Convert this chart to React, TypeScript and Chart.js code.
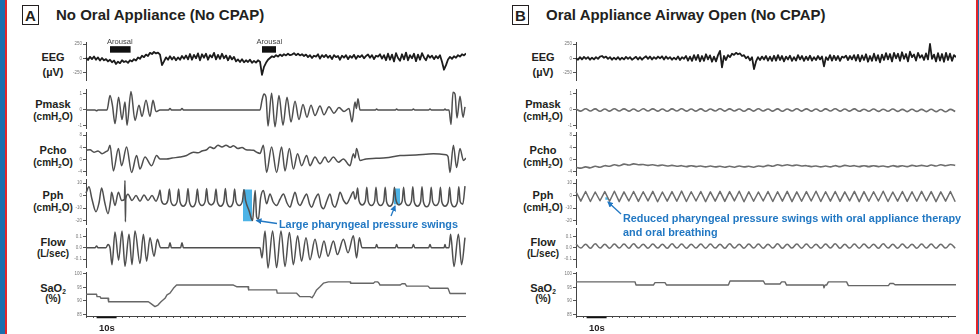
import React, { useEffect, useRef } from "react";
import { Chart, registerables } from "chart.js";
Chart.register(...registerables);

const FONT = '"Liberation Sans", Arial, Helvetica, sans-serif';
const T_MAX = 190;
const EEG_DT = 1;
const B_DT = 2.4;
const X_STEP = 3.65;
const BLUE = "#2278c3";

// ---------- tick values / labels ----------
const eegTicks = [250, 0, -250];
const eegLabels = ["250", "0", "-250"];
const pmaskTicks = [1, 0, -1];
const pmaskLabels = ["1", "0", "-1"];
const pchoTicks = [8, 4, 0, -4];
const pchoLabels = ["8", "4", "0", "-4"];
const pphTicks = [10, 0, -10, -20];
const pphLabels = ["10", "0", "-10", "-20"];
const flowTicks = [0.1, 0, -0.1];
const flowLabels = ["0.1", "0.0", "-0.1"];
const saTicks = [100, 95, 90, 85];
const saLabels = ["100", "95", "90", "85"];

// ---------- Panel A data ----------
const eegA = [
  10, -30, 25, -15, 30, -25, 15, -40, 5, -35,
  -15, -55, -25, -70, -40, -100, -60, -85, -35, -65,
  -50, -80, -35, -55, -15, -40, 15, -10, 45, 20,
  65, 40, 95, 75, 110, 85, 100, 65, -120, -55,
  15, -25, 35, -20, 25, -35, 15, -25, 40, -10,
  50, -20, 75, -25, 60, 0, 85, -35, 70, 10,
  80, -25, 55, 15, 95, -20, 60, -10, 80, 0,
  50, -35, 40, -20, 25, -55, -20, -65, -15, -70,
  -35, -65, -25, -80, -45, -75, -35, -60, -290, -150,
  -80, -25, 5, 35, 20, 55, 30, 65, 40, 70,
  50, 80, 55, 65, 90, 55, 80, 50, 70, 40,
  65, 20, 55, 5, 45, 30, 70, -5, 55, 20,
  60, 10, 45, -15, 55, 20, 40, -25, 45, 10,
  55, -15, 40, 10, 60, -10, 45, 20, 55, 0,
  40, 65, 10, 55, -15, 45, 30, 70, -5, 55,
  -35, 80, -25, 65, -55, 90, 5, -45, 70, -20,
  100, -35, 55, 0, 80, -50, 65, -25, 90, 15,
  -35, 55, 10, 45, -15, 40, 0, 55, -60, -200,
  -120, -20, 25, -10, 35, 10, 55, 30, 70, 50,
  85,
];

const arousal1: [number, number][] = [[12, 155], [22.3, 155]];
const arousal2: [number, number][] = [[88, 155], [95, 155]];

const pmaskA: [number, number][] = [
  [0, 0], [4.5, 0], [5.3, -0.05], [6, 0], [10.5, 0], [12, 0.9], [13.2, 0.3], [14.5, -0.85],
  [16.3, 0.8], [18, -0.6], [19.5, 0.5], [20.5, -0.95], [22.5, 1.15], [24.5, -0.65], [26.5, 0.3],
  [28, -0.4], [30, 0.6], [32, -0.4], [33.5, 0.6], [35, -0.1], [37, 0], [41.3, 0], [42, 0.1],
  [42.7, 0], [47.3, 0], [48, 0.1], [48.7, 0], [87, 0], [88, 0.6], [89, 1.0], [90, 0.8], [91, -1.0],
  [92.8, 1.05], [94.5, -1.05], [96.5, 0.9], [98.5, -0.95], [100.5, 0.8], [102.5, -0.75],
  [104.5, 0.55], [106.5, -0.6], [108.5, 0.35], [110.5, -0.45], [112.5, 0.3], [114.5, -0.35],
  [117, 0.25], [119, -0.3], [121.5, 0.2], [124, -0.2], [126.5, 0.15], [129, -0.1], [131.5, 0.1],
  [133, -0.75], [134.5, 0.5], [135.2, 0.1], [136, 0.7], [137, 0], [144.7, 0], [145.3, 0.06],
  [146, 0], [154.7, 0], [155.3, 0.06], [156, 0], [163, 0], [163.7, 0.06], [164.4, 0], [171.3, 0],
  [172, 0.06], [172.7, 0], [179, 0], [179.5, 0.06], [180, 0], [181.5, 0], [182.5, -0.9],
  [183.5, 1.1], [184.5, 1.0], [185.5, -0.5], [187, 0.85], [188.5, -0.45], [189.5, 0.2],
];

const pchoA: [number, number][] = [
  [0, 3.0], [2, 3.2], [4, 2.4], [6, 2.8], [8, 1.9], [10, 2.6], [11, 3.0], [12, 4.7], [13.7, -3.7],
  [16.2, 3.6], [17.8, -2.0], [20.3, 4.1], [22.8, -4.2], [25.3, 1.3], [27, -3.1], [29.5, 0.8],
  [32.8, -2.0], [35.3, 1.3], [37, 0.2], [40.3, 0.2], [43, 0.5], [47, 0.8], [50.3, 1.3],
  [53.7, 2.4], [56, 2.2], [58, 2.8], [60.3, 3.2], [62, 4.1], [64, 3.6], [66, 4.7], [68, 4.1],
  [70, 4.7], [72, 4.0], [73.7, 4.5], [76, 3.6], [78, 3.9], [80, 3.2], [83.7, 3.0], [85.3, 2.4],
  [87, 2.0], [88.7, 4.7], [90.3, -4.2], [92.8, 4.1], [95.3, -4.2], [97.8, 4.1], [99.5, -3.7],
  [101.7, 3.6], [103.7, -3.1], [105.8, 1.9], [107.8, -2.0], [110.3, 1.3], [112, -2.0],
  [114.5, 0.8], [117, -1.4], [119.5, 0.8], [121.2, -0.9], [123.7, 0.8], [126.2, -0.9],
  [128.7, 0.2], [132, -2.0], [133.7, 1.9], [134.5, 0.5], [135.3, 3.6], [137, -0.3], [140, 0.2],
  [145, 0.4], [150, 0.6], [157, 1.3], [165, 1.5], [173.7, 1.9], [180, 1.6], [181, 1.0],
  [182, -4.2], [183.7, 4.7], [185.3, -2.6], [187, 3.6], [188.7, -0.3], [190, 0.5],
];

const pphA: [number, number][] = [
  [0, 2], [1.5, 7], [3, -3], [5, -13], [6.5, -6], [7.8, 6], [9.3, -5], [11, -14.5], [12.3, -4],
  [12.8, 2.6], [14.5, -8], [16.2, 2.6], [17.8, -4], [19.2, -3], [19.5, 12], [19.7, -21], [19.9, -3],
  [21, 1], [23, -4], [25, 0], [27, -4.5], [29, 0.5], [31, -4], [33, 0], [35, -4.5], [36.5, 1],
  [37, 4.5], [37.7, -4], [39.3, -7], [40.9, -4],
  [41.7, 5.3], [42.4, -4.5], [44, -8], [45.6, -4.5],
  [46.3, 5.3], [47, -5], [48.6, -8.5], [50.2, -5],
  [51, 5.6], [51.7, -5], [53.3, -9], [54.9, -5],
  [55.7, 5.3], [56.4, -4.5], [58, -8], [59.6, -4.5],
  [60.3, 5.6], [61, -4.5], [62.6, -7.5], [64.2, -4.5],
  [65, 5.3], [65.7, -5], [67.3, -8.5], [68.9, -5],
  [69.7, 5.6], [70.4, -5], [72, -9], [73.6, -5],
  [74.3, 5.3], [75, -4.5], [76.6, -8], [78.2, -4.5],
  [79, 4.8], [79.8, -4], [81.5, -12], [83.3, -20], [84, -6], [84.6, 4], [85.3, -17], [86.2, -19],
  [87.3, -2], [88.7, 4], [90.3, -6.6], [92, 1.3], [93.5, -5], [95.3, -8], [97, -3], [98.7, 1.3],
  [100.5, -6], [102, -9.3], [103.3, -3], [104.5, 2.6], [106, -6], [107, -8], [108.7, -3],
  [110.3, 1.3], [111.8, -7], [112.8, -9.3], [114.5, -3], [116.2, 1.3], [117.5, -8], [118.7, -10.6],
  [120.5, -4], [122, 1.3], [123.3, -7], [124.5, -9.3], [126, -3], [127, 2.6], [128.8, -4],
  [130.3, -6.6], [132, -2], [133.7, 3], [134.5, -3], [135.1, -1],
  [135.8, 6], [136.5, -4], [138.1, -7.5], [139.7, -4],
  [140.4, 6.6], [141.1, -4.5], [142.7, -8], [144.3, -4.5],
  [145, 6.6], [145.7, -4.5], [147.3, -8], [148.9, -4.5],
  [149.6, 6.6], [150.3, -5], [151.9, -8.5], [153.5, -5],
  [154.2, 6.6], [154.9, -3], [156.5, -7.5], [158.1, -4.5],
  [158.8, 6.6], [159.5, -4.5], [161.1, -8], [162.7, -4.5],
  [163.4, 7], [164.1, -5], [165.7, -8.5], [167.3, -5],
  [168, 7], [168.7, -5], [170.3, -9], [171.9, -5],
  [172.6, 6.6], [173.3, -4.5], [174.9, -8], [176.5, -4.5],
  [177.2, 6.6], [177.9, -5], [179.5, -8.5], [181.1, -5],
  [181.8, 6.6], [182.5, -5], [184.1, -9], [185.7, -5],
  [186.4, 7], [187.1, -5], [188.4, -7], [189.5, 7.5],
];

const pphHighlightA1: [number, number][] = [[78.5, 4.8], [83.0, 4.8]];
const pphHighlightA1Bottom = -20.6;
const pphHighlightA2: [number, number][] = [[154.0, 5.6], [157.0, 5.6]];
const pphHighlightA2Bottom = -7.1;

const flowA: [number, number][] = [
  [0, 0], [4.5, 0], [5.3, 0.015], [6, 0], [10, 0], [11, 0.03], [12, 0], [13, -0.15], [14.5, 0.14],
  [16.3, -0.11], [18, 0.15], [19.5, -0.165], [21.5, 0.12], [23, -0.15], [24.5, 0.15], [27, -0.14],
  [28.7, 0.12], [30.3, -0.12], [32, 0.09], [34, -0.075], [35.7, 0.075], [37.3, 0], [41.3, 0],
  [42, 0.045], [42.7, 0], [47.3, 0], [48, 0.045], [48.7, 0], [87, 0], [88, -0.09], [89.5, 0.15],
  [91, -0.18], [93.3, 0.15], [95.3, -0.175], [97.5, 0.15], [99.5, -0.167], [101.7, 0.136],
  [103.7, -0.15], [105.8, 0.106], [107.8, -0.12], [110, 0.09], [112, -0.106], [114.5, 0.075],
  [116.7, -0.09], [119, 0.06], [121, -0.075], [123.7, 0.06], [125.7, -0.06], [128.7, 0.075],
  [131, -0.045], [133.7, 0.106], [135.3, -0.09], [136.7, 0.09], [138, 0], [144.7, 0],
  [145.3, 0.03], [146, 0], [154.7, 0], [155.3, 0.03], [156, 0], [163, 0], [163.7, 0.03],
  [164.4, 0], [171.3, 0], [172, 0.03], [172.7, 0], [179, 0], [179.5, 0.03], [180, 0], [181.5, 0],
  [182.3, 0.12], [184, -0.167], [186.2, 0.12], [187.8, -0.15], [189.5, 0.09],
];

const saA: [number, number][] = [
  [0, 92.5], [5.3, 92.5], [5.5, 91.6], [7, 91.6], [7.5, 91.0], [11, 91.0], [11.3, 89.7],
  [31.2, 89.7], [32.5, 89.0], [34.5, 87.9], [36, 88.5], [37.5, 89.7], [39.5, 91.0], [40.5, 92.3],
  [42, 92.9], [43.7, 94.7], [45.3, 95.9], [73.7, 95.9], [75.3, 95.3], [81, 95.3], [81.3, 94.1],
  [95.3, 94.1], [95.6, 92.9], [105.3, 92.9], [107, 91.6], [112, 91.6], [113, 91.2], [114, 92.3],
  [115.3, 94.1], [117, 95.3], [118.7, 96.6], [121.2, 97.1], [132, 97.1], [132.3, 96.6],
  [143.7, 96.6], [144.5, 97.1], [145.8, 97.1], [146.5, 96.6], [147, 95.9], [157, 95.9],
  [158, 96.4], [159.5, 96.4], [160.3, 95.5], [171, 95.5], [172, 94.7], [181, 94.7], [182, 92.8],
  [190, 92.8],
];

// ---------- Panel B data ----------
const eegB = [
  0, -25, 20, -20, 25, -10, 20, -25, 10, -20,
  20, -10, 30, 40, 10, 30, -10, 20, -25, 10,
  -20, 20, -25, 10, -20, 25, -10, 20, -25, 0,
  25, -20, 20, -25, 10, 35, -10, 30, -20, 20,
  -10, 30, 0, 35, -20, 30, -10, 20, -25, 10,
  -20, 30, -30, 20, -10, 40, -40, 30, -45, 55,
  -30, 60, -55, 40, -45, 70, -20, 50, -60, 30,
  -55, 55, 130, -160, 40, -30, 55, 20, 80, 60,
  95, 70, 85, 40, 55, 0, 30, -35, 20, -190,
  -55, 20, -30, 30, -20, 40, -40, 30, -45, 45,
  -40, 55, -30, 40, -55, 30, -20, 45, -45, 20,
  -40, 55, -20, 40, -45, 30, -30, 45, -40, 20,
  -30, 40, -20, 30, -140, 20, -30, 55, -40, 45,
  -30, 40, -45, 30, 10, 45, -30, 40, -20, 55,
  -40, 60, -55, 50, -30, 70, -60, 40, -45, 80,
  -40, 55, -70, 65, -30, 90, -20, 75, -55, 95,
  0, 80, -45, 105, -10, 75, -55, 115, 20, 65,
  -40, 95, 10, 55, -30, 85, -20, 250, -10, 65,
  -55, 90, -40, 75, -60, 95, -30, 80, -45, 55,
  20,
];

const pmaskB = [
  0.06, -0.07, 0.08, -0.06, 0.07, -0.08, 0.06, -0.07, 0.08, -0.06,
  0.07, -0.07, 0.06, -0.08, 0.08, -0.06, 0.07, -0.07, 0.06, -0.08,
  0.07, -0.06, 0.08, -0.07, 0.06, -0.07, 0.07, -0.08, 0.06, -0.06,
  0.08, -0.07, 0.07, -0.06, 0.06, -0.08, 0.07, -0.07, 0.08, -0.06,
  0.06, -0.07, 0.07, -0.08, 0.06, -0.06, 0.08, -0.07, 0.07, -0.07,
  0.06, -0.08, 0.07, -0.06, 0.08, -0.07, 0.06, -0.07, 0.07, -0.08,
  0.05, -0.08, 0.06, -0.09, 0.05, -0.08, 0.06, -0.09, 0.04, -0.1,
  0.05, -0.09, 0.04, -0.1, 0.05, -0.1, 0.03, -0.11, 0.04, -0.1,
];

const pchoB = [
  -2.5, -2.8, -2.4, -2.7, -2.2, -2.5, -2.0, -2.2, -1.7, -2.0,
  -1.5, -1.8, -1.4, -1.7, -1.6, -1.9, -1.7, -2.0, -1.8, -2.1,
  -1.9, -2.2, -2.0, -2.3, -2.0, -2.3, -2.1, -2.4, -2.1, -2.4,
  -2.2, -2.5, -2.2, -2.5, -2.1, -2.4, -2.2, -2.5, -2.1, -2.3,
  -1.9, -2.2, -1.7, -2.0, -1.7, -2.0, -1.8, -2.1, -2.0, -2.3,
  -2.1, -2.4, -2.1, -2.4, -2.0, -2.3, -1.9, -2.2, -2.0, -2.3,
  -2.0, -2.3, -2.0, -2.3, -2.1, -2.4, -2.0, -2.3, -2.0, -2.3,
  -1.9, -2.2, -1.9, -2.2, -1.8, -2.1, -1.7, -2.0, -1.7, -1.9,
];

const pphB = [
  3, -4.5, 3.2, -4.8, 2.8, -4.2, 3.1, -4.6, 3.4, -4.9,
  2.9, -4.4, 3.2, -4.7, 3.0, -4.3, 3.3, -5.0, 2.8, -4.5,
  3.1, -4.6, 3.5, -4.8, 3.0, -4.4, 3.2, -4.9, 2.9, -4.5,
  3.3, -4.7, 3.1, -4.3, 3.4, -5.0, 3.0, -4.6, 2.8, -4.4,
  3.2, -4.8, 3.0, -4.5, 3.3, -4.9, 2.9, -4.6, 3.1, -4.4,
  3.4, -4.8, 3.0, -4.5, 3.2, -4.7, 2.9, -4.3, 3.3, -4.9,
  3.1, -4.6, 3.0, -4.4, 3.4, -4.8, 2.8, -4.5, 3.2, -4.7,
  3.0, -4.6, 3.3, -4.4, 3.1, -4.9, 2.9, -4.5, 3.2, -5.0,
];
const pphHighlightB: [number, number][] = [[14.6, -1.4], [16.0, -1.4]];
const pphHighlightBBottom = -3.4;

const flowB = [
  0.034, -0.003, 0.032, -0.004, 0.035, -0.003, 0.031, -0.004, 0.034, -0.003,
  0.033, -0.004, 0.035, -0.003, 0.032, -0.004, 0.034, -0.003, 0.031, -0.004,
  0.035, -0.003, 0.033, -0.004, 0.032, -0.003, 0.034, -0.004, 0.033, -0.003,
  0.031, -0.004, 0.035, -0.003, 0.032, -0.004, 0.034, -0.003, 0.033, -0.004,
  0.032, -0.003, 0.035, -0.004, 0.031, -0.003, 0.034, -0.004, 0.033, -0.003,
  0.032, -0.004, 0.034, -0.003, 0.035, -0.004, 0.031, -0.003, 0.033, -0.004,
  0.034, -0.003, 0.032, -0.004, 0.035, -0.003, 0.031, -0.004, 0.034, -0.003,
  0.032, -0.004, 0.033, -0.003, 0.034, -0.004, 0.031, -0.003, 0.033, -0.004,
];

const saB: [number, number][] = [
  [0, 97.1], [29.5, 97.1], [30, 95.9], [38.7, 95.9], [39.5, 96.8], [44.5, 96.8], [45.3, 95.9],
  [76.2, 95.9], [77, 97.4], [93.7, 97.4], [94.5, 96.3], [102, 96.3], [102.8, 97.1], [104.5, 97.1],
  [105.3, 95.9], [123.7, 95.9], [124, 94.9], [124.5, 95.9], [125.3, 95.9], [126.2, 97.1],
  [135.3, 97.1], [136.2, 95.7], [156.2, 95.7], [157, 96.5], [158.7, 96.5], [159.5, 96.0],
  [190, 96.0],
];

// 10-second scale bar (start time, level below the SaO2 axis)
const scaleBarStart = 5.3;
const scaleBarLen = 10;
const scaleBarLevel = 83.9;

// ---------- layout ----------
type Row = { top: number; bottom: number; min: number; max: number; ticks: number[]; labels: string[] };
const ROWS: Record<string, Row> = {
  eeg: { top: 42, bottom: 80, min: -380, max: 285, ticks: eegTicks, labels: eegLabels },
  pmask: { top: 89, bottom: 128, min: -1.125, max: 1.31, ticks: pmaskTicks, labels: pmaskLabels },
  pcho: { top: 132, bottom: 175, min: -5.04, max: 8.98, ticks: pchoTicks, labels: pchoLabels },
  pph: { top: 179, bottom: 224, min: -22.8, max: 13.2, ticks: pphTicks, labels: pphLabels },
  flow: { top: 228, bottom: 267, min: -0.171, max: 0.176, ticks: flowTicks, labels: flowLabels },
  sao2: { top: 272, bottom: 316, min: 84.44, max: 100.74, ticks: saTicks, labels: saLabels },
};

const pairs = (p: [number, number][]) => p.map(([x, y]) => ({ x, y }));
const uniform = (v: number[], dt: number) => v.map((y, i) => ({ x: i * dt, y }));

const trace = (data: any[], color: string, width: number, extra: any = {}) => ({
  data,
  borderColor: color,
  borderWidth: width,
  pointRadius: 0,
  fill: false,
  tension: 0,
  clip: false,
  ...extra,
});
const smooth = { cubicInterpolationMode: "monotone" };
const rect = (top: [number, number][], bottom: number, color: string) => ({
  data: pairs(top),
  borderWidth: 0,
  borderColor: "rgba(0,0,0,0)",
  backgroundColor: color,
  pointRadius: 0,
  fill: { value: bottom },
  clip: false,
});

const YW = 22;
const PAD = 4;

function TraceChart({ axisX, row, datasets, xAxis = false }: { axisX: number; row: Row; datasets: any[]; xAxis?: boolean }) {
  const ref = useRef<HTMLCanvasElement>(null);
  const W = YW + 380;
  const padBottom = xAxis ? 8 : PAD;
  const H = PAD + (row.bottom - row.top) + (xAxis ? 2 : 0) + padBottom;
  useEffect(() => {
    const chart = new Chart(ref.current as HTMLCanvasElement, {
      type: "line",
      data: { datasets },
      options: {
        responsive: false,
        animation: false,
        events: [],
        layout: { padding: { top: PAD, bottom: padBottom, left: 0, right: 0 } },
        plugins: { legend: { display: false }, tooltip: { enabled: false } },
        elements: { point: { radius: 0 }, line: { borderJoinStyle: "round" } },
        scales: {
          x: {
            type: "linear",
            min: 0,
            max: T_MAX,
            display: xAxis,
            ticks: { display: false, stepSize: X_STEP },
            grid: { drawOnChartArea: false, drawTicks: true, tickLength: 2, color: "#555", lineWidth: 1 },
            border: { display: true, color: "#444", width: 1 },
          },
          y: {
            type: "linear",
            min: row.min,
            max: row.max,
            afterFit: (s: any) => {
              s.width = YW;
            },
            afterBuildTicks: (s: any) => {
              s.ticks = row.ticks.map((v) => ({ value: v }));
            },
            ticks: {
              autoSkip: false,
              font: { size: 4.5, family: FONT },
              color: "#777",
              padding: 1,
              callback: (_v: any, i: number) => row.labels[i],
            },
            grid: { drawOnChartArea: false, tickLength: 3, color: "#555" },
            border: { color: "#444", width: 1 },
          },
        },
      } as any,
    });
    return () => chart.destroy();
  }, []);
  return (
    <canvas
      ref={ref}
      width={W}
      height={H}
      style={{ position: "absolute", left: axisX - YW, top: row.top - PAD, width: W, height: H }}
    />
  );
}

const AXIS_A = 86;
const AXIS_B = 576;
const LABEL_A = 53;
const LABEL_B = 543;

const labelStyle = (cx: number, cy: number, size: number): React.CSSProperties => ({
  position: "absolute",
  left: cx - 40,
  width: 80,
  top: cy - 7,
  height: 14,
  lineHeight: "14px",
  textAlign: "center",
  fontFamily: FONT,
  fontWeight: "bold",
  fontSize: size,
  color: "#231f20",
  whiteSpace: "nowrap",
});

const sub = (t: string) => <sub style={{ fontSize: "0.6em", verticalAlign: "-0.3em", lineHeight: 0 }}>{t}</sub>;

function RowLabels({ cx }: { cx: number }) {
  const items: [React.ReactNode, number, number][] = [
    ["EEG", 57, 11],
    ["(µV)", 71.7, 11],
    ["Pmask", 104, 11],
    [<>(cmH{sub("2")}O)</>, 116.7, 10],
    ["Pcho", 149.6, 11],
    [<>(cmH{sub("2")}O)</>, 162.5, 10],
    ["Pph", 195.2, 11],
    [<>(cmH{sub("2")}O)</>, 208, 10],
    ["Flow", 241.7, 11],
    ["(L/sec)", 254.2, 10],
    [<>SaO{sub("2")}</>, 287.6, 11],
    ["(%)", 299.2, 10],
  ];
  return (
    <>
      {items.map(([t, y, s], i) => (
        <div key={i} style={labelStyle(cx, y, s)}>
          {t}
        </div>
      ))}
    </>
  );
}

function Title({ x, letter, text }: { x: number; letter: string; text: string }) {
  return (
    <>
      <div
        style={{
          position: "absolute",
          left: x,
          top: 5,
          width: 15,
          height: 18,
          border: "1.5px solid #231f20",
          fontFamily: FONT,
          fontWeight: "bold",
          fontSize: 15,
          lineHeight: "19px",
          textAlign: "center",
          color: "#231f20",
        }}
      >
        {letter}
      </div>
      <div
        style={{
          position: "absolute",
          left: x + 34,
          top: 6,
          height: 18,
          lineHeight: "18px",
          fontFamily: FONT,
          fontWeight: "bold",
          fontSize: 15,
          color: "#231f20",
          whiteSpace: "nowrap",
        }}
      >
        {text}
      </div>
    </>
  );
}

const smallText = (x: number, cy: number, text: string, size: number, bold = false, color = "#444"): React.ReactNode => (
  <div
    style={{
      position: "absolute",
      left: x,
      top: cy - 6,
      height: 12,
      lineHeight: "12px",
      fontFamily: FONT,
      fontSize: size,
      fontWeight: bold ? "bold" : "normal",
      color,
      whiteSpace: "nowrap",
    }}
  >
    {text}
  </div>
);

export default function App() {
  const A_COL = "#4f4f4f";
  const B_COL = "#6d6d6d";
  const EEG_COL = "#1c1c1c";
  const HL = "#4cb3e6";

  return (
    <div style={{ position: "absolute", left: 0, top: 0, width: 979, height: 334, background: "#fff", overflow: "hidden" }}>
      {/* side bars */}
      <div style={{ position: "absolute", left: 0, top: 0, width: 5, height: 334, background: "#1b6fae" }} />
      <div style={{ position: "absolute", left: 5, top: 0, width: 2, height: 334, background: "#e3262b" }} />
      <div style={{ position: "absolute", left: 976, top: 0, width: 2, height: 334, background: "#e3262b" }} />
      <div style={{ position: "absolute", left: 978, top: 0, width: 1, height: 334, background: "#1b6fae" }} />

      <Title x={22} letter="A" text="No Oral Appliance (No CPAP)" />
      <Title x={512} letter="B" text="Oral Appliance Airway Open (No CPAP)" />

      <RowLabels cx={LABEL_A} />
      <RowLabels cx={LABEL_B} />

      {/* Panel A */}
      <TraceChart
        axisX={AXIS_A}
        row={ROWS.eeg}
        datasets={[
          trace(uniform(eegA, EEG_DT), EEG_COL, 1.8),
          trace(pairs(arousal1), "#111", 6.5, { borderCapStyle: "butt" }),
          trace(pairs(arousal2), "#111", 6.5, { borderCapStyle: "butt" }),
        ]}
      />
      <TraceChart axisX={AXIS_A} row={ROWS.pmask} datasets={[trace(pairs(pmaskA), A_COL, 1.5, smooth)]} />
      <TraceChart axisX={AXIS_A} row={ROWS.pcho} datasets={[trace(pairs(pchoA), A_COL, 1.5, smooth)]} />
      <TraceChart
        axisX={AXIS_A}
        row={ROWS.pph}
        datasets={[
          trace(pairs(pphA), A_COL, 1.5, smooth),
          rect(pphHighlightA1, pphHighlightA1Bottom, HL),
          rect(pphHighlightA2, pphHighlightA2Bottom, HL),
        ]}
      />
      <TraceChart axisX={AXIS_A} row={ROWS.flow} datasets={[trace(pairs(flowA), A_COL, 1.5, smooth)]} />
      <TraceChart
        axisX={AXIS_A}
        row={ROWS.sao2}
        xAxis
        datasets={[
          trace(pairs(saA), "#666", 1.4),
          trace(
            [
              { x: scaleBarStart, y: scaleBarLevel },
              { x: scaleBarStart + scaleBarLen, y: scaleBarLevel },
            ],
            "#111",
            1.6,
            { borderCapStyle: "butt" }
          ),
        ]}
      />

      {/* Panel B */}
      <TraceChart axisX={AXIS_B} row={ROWS.eeg} datasets={[trace(uniform(eegB, EEG_DT), EEG_COL, 1.8)]} />
      <TraceChart axisX={AXIS_B} row={ROWS.pmask} datasets={[trace(uniform(pmaskB, B_DT), B_COL, 1.6, { tension: 0.4 })]} />
      <TraceChart axisX={AXIS_B} row={ROWS.pcho} datasets={[trace(uniform(pchoB, B_DT), B_COL, 1.6, { tension: 0.4 })]} />
      <TraceChart
        axisX={AXIS_B}
        row={ROWS.pph}
        datasets={[trace(uniform(pphB, B_DT), B_COL, 1.5), rect(pphHighlightB, pphHighlightBBottom, HL)]}
      />
      <TraceChart axisX={AXIS_B} row={ROWS.flow} datasets={[trace(uniform(flowB, B_DT), B_COL, 1.5, { tension: 0.4 })]} />
      <TraceChart
        axisX={AXIS_B}
        row={ROWS.sao2}
        xAxis
        datasets={[
          trace(pairs(saB), "#666", 1.4),
          trace(
            [
              { x: scaleBarStart, y: scaleBarLevel },
              { x: scaleBarStart + scaleBarLen, y: scaleBarLevel },
            ],
            "#111",
            1.6,
            { borderCapStyle: "butt" }
          ),
        ]}
      />

      {/* annotations */}
      {smallText(107, 41.7, "Arousal", 7.6)}
      {smallText(256.5, 41.7, "Arousal", 7.6)}
      {smallText(99, 327.5, "10s", 9.5, true, "#231f20")}
      {smallText(589, 327.5, "10s", 9.5, true, "#231f20")}
      {smallText(279, 223.7, "Large pharyngeal pressure swings", 10.85, true, BLUE)}
      {smallText(623, 218.3, "Reduced pharyngeal pressure swings with oral appliance therapy", 10.85, true, BLUE)}
      {smallText(623, 231.7, "and oral breathing", 10.85, true, BLUE)}

      <svg width={979} height={334} style={{ position: "absolute", left: 0, top: 0, pointerEvents: "none" }}>
        <defs>
          <marker id="ah" markerWidth="6" markerHeight="6" refX="5" refY="3" orient="auto" markerUnits="userSpaceOnUse">
            <path d="M0,0 L6,3 L0,6 z" fill={BLUE} />
          </marker>
        </defs>
        <line x1={277} y1={223.5} x2={256.5} y2={220.5} stroke={BLUE} strokeWidth={1.3} markerEnd="url(#ah)" />
        <line x1={391} y1={216} x2={395} y2={206} stroke={BLUE} strokeWidth={1.3} markerEnd="url(#ah)" />
        <line x1={621} y1={214} x2={608} y2={202} stroke={BLUE} strokeWidth={1.3} markerEnd="url(#ah)" />
      </svg>
    </div>
  );
}
